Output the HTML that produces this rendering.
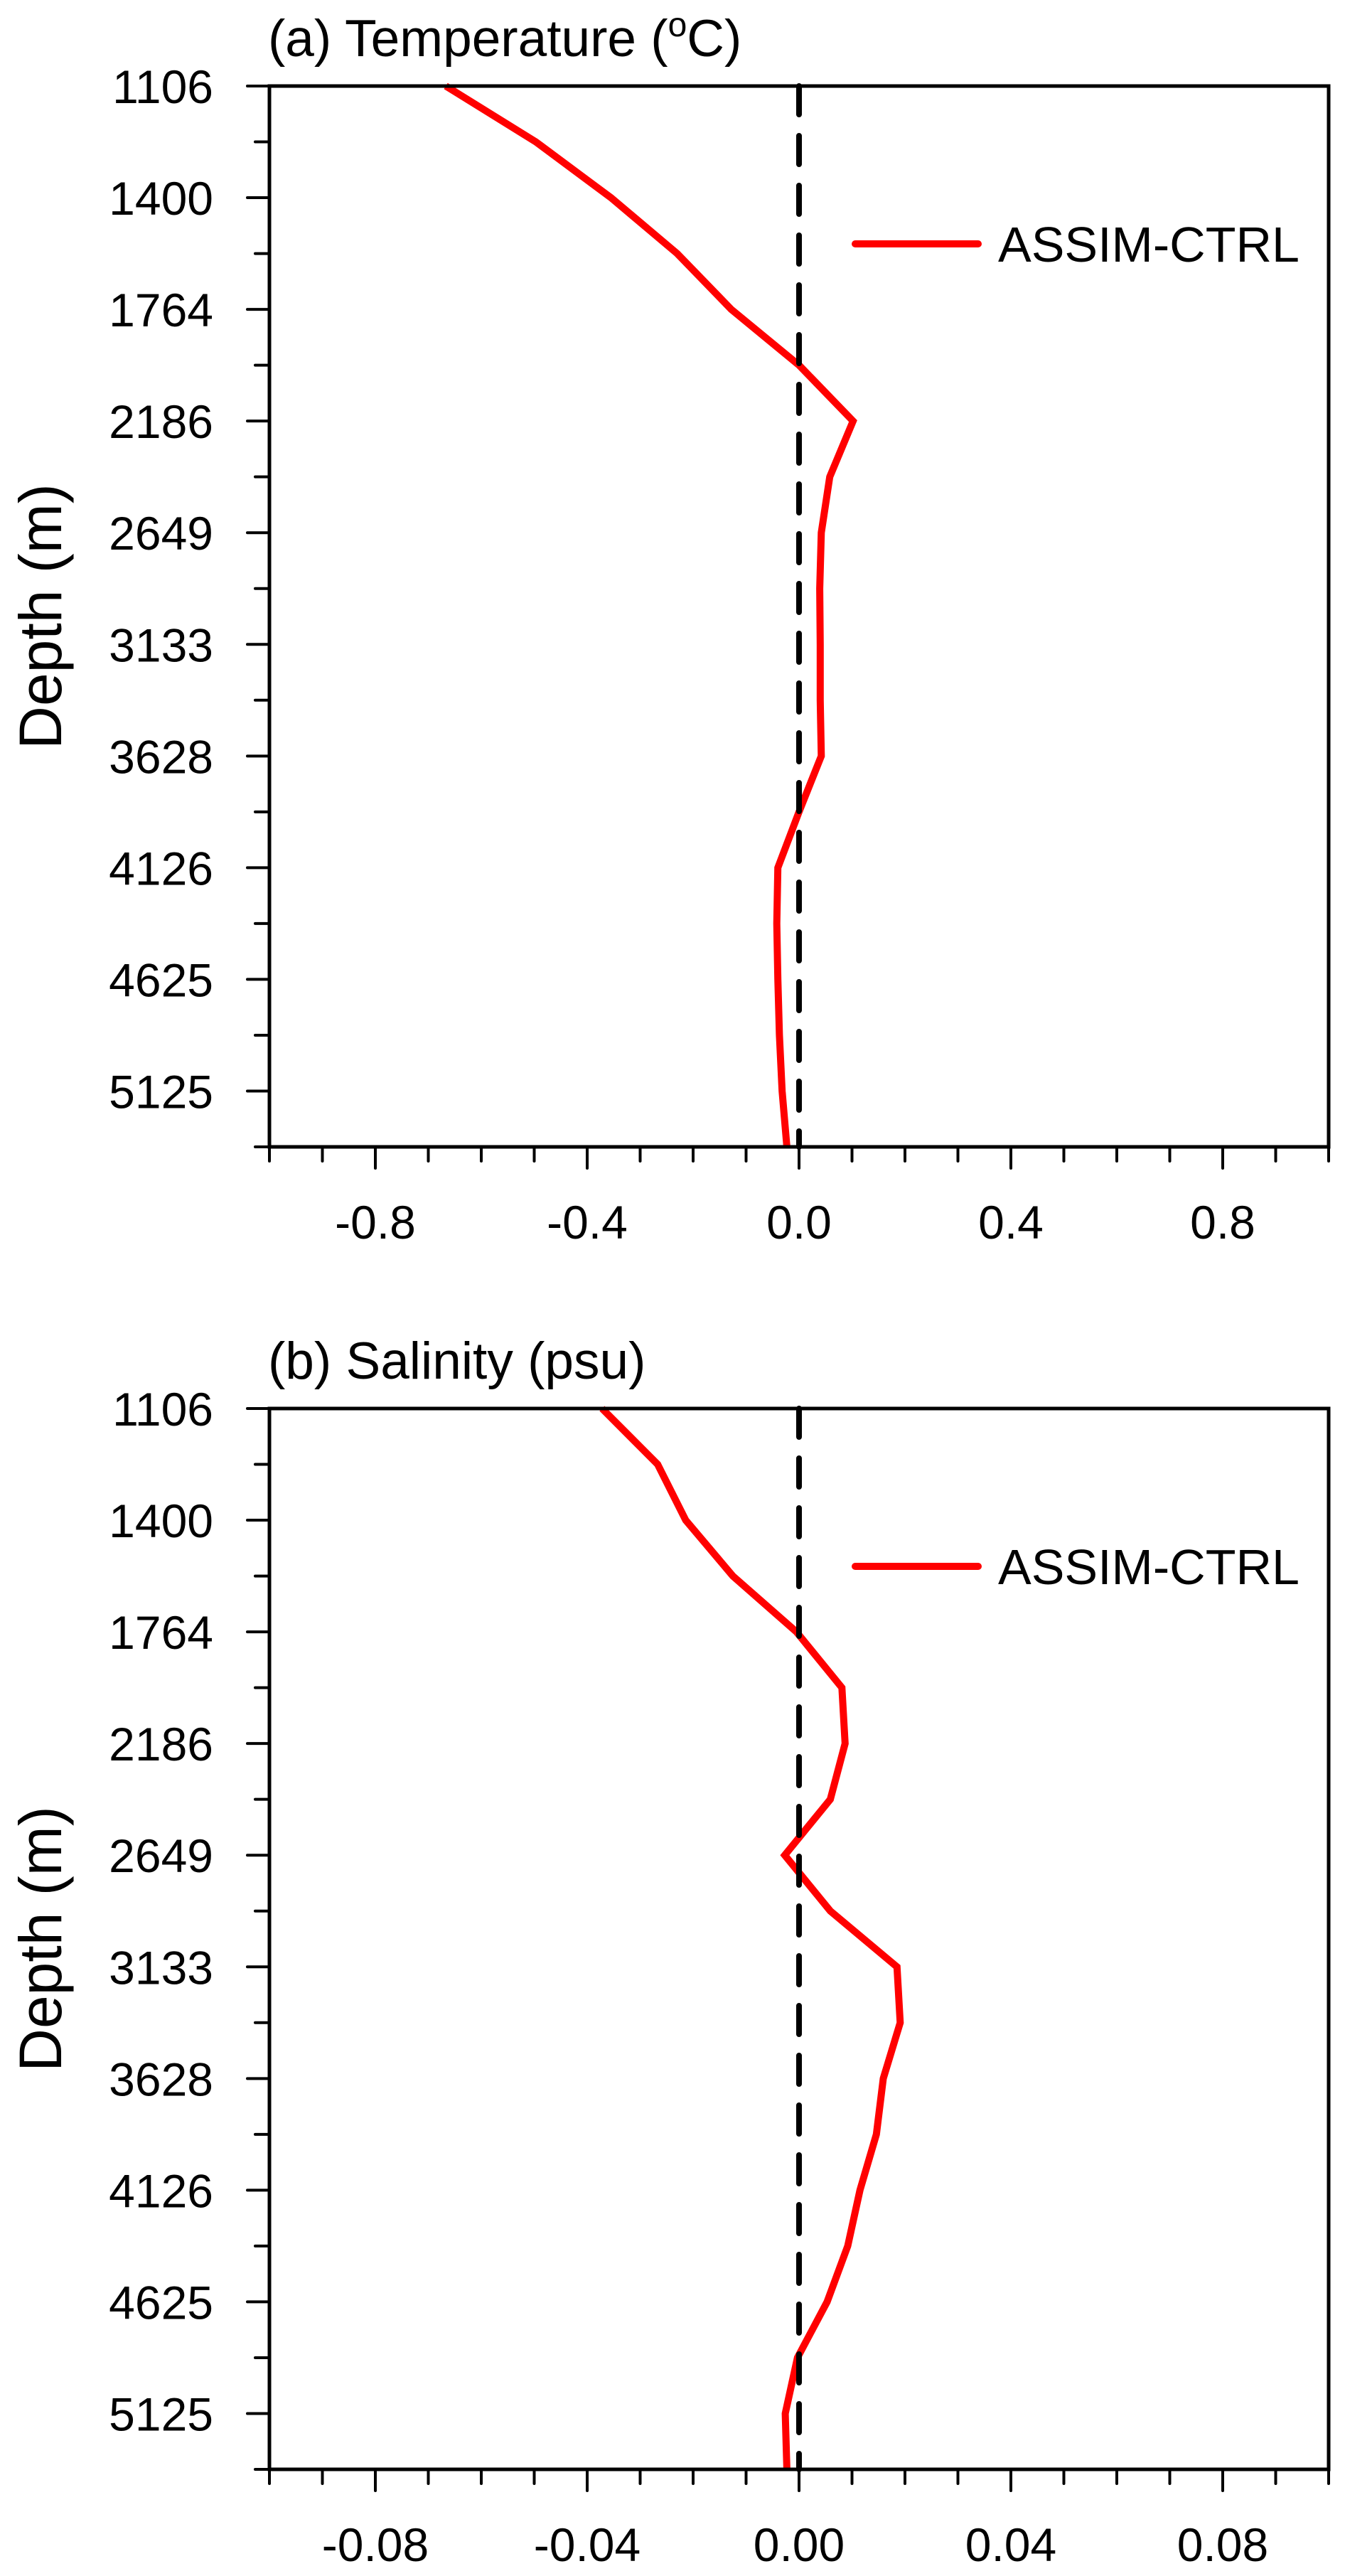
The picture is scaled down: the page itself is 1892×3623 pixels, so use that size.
<!DOCTYPE html>
<html><head><meta charset="utf-8">
<style>
html,body{margin:0;padding:0;background:#fff;}
svg{display:block;font-family:"Liberation Sans",sans-serif;}
</style></head>
<body>
<svg id="fig" width="1892" height="3623" viewBox="0 0 1892 3623" xmlns="http://www.w3.org/2000/svg"></svg>
<script>
const depthLabels = ["1106","1400","1764","2186","2649","3133","3628","4126","4625","5125"];
const tempValues = [-0.667,-0.497,-0.355,-0.230,-0.128,0.0,0.102,0.058,0.042,0.039,0.040,0.040,0.042,0.0,-0.040,-0.042,-0.040,-0.037,-0.032,-0.023];
const salValues = [-0.0372,-0.0267,-0.0214,-0.0125,-0.0005,0.0081,0.0087,0.0059,-0.0027,0.0059,0.0185,0.0191,0.0159,0.0146,0.0115,0.0092,0.0053,-0.0003,-0.0026,-0.0023];
const tempXTicks = ["-0.8","-0.4","0.0","0.4","0.8"];
const salXTicks = ["-0.08","-0.04","0.00","0.04","0.08"];
const legendLabel = "ASSIM-CTRL";

const NS = "http://www.w3.org/2000/svg";
const svg = document.getElementById("fig");
function mk(tag, attrs, parent){
  const e = document.createElementNS(NS, tag);
  for (const k in attrs) e.setAttribute(k, attrs[k]);
  (parent||svg).appendChild(e);
  return e;
}
const L = 379, R = 1869, H = 1492, NLEV = 20;

function panel(top, titleHTML, titleName, values, xmax, xticks, prefix){
  const g = mk("g", {});
  
  
  const bottom = top + H;
  const xs = v => L + (v + xmax) / (2 * xmax) * (R - L);
  const ys = i => top + i * H / (NLEV - 1);

  const t = mk("text", {x: L - 2, y: top - 42, "font-size": 73, fill: "#000"}, g);
  t.innerHTML = titleHTML;
  
  

  for (let i = 0; i < NLEV; i++) {
    const y = ys(i);
    const major = i % 2 === 0 && i / 2 < depthLabels.length;
    const tk = mk("line", {x1: major ? L - 31 : L - 20, x2: L, y1: y, y2: y, stroke: "#000", "stroke-width": 4, "stroke-linecap": "round"}, g);
    
    
    if (major) {
      const lb = mk("text", {x: 300, y: y + 24, "font-size": 66, "text-anchor": "end", fill: "#000"}, g);
      lb.textContent = depthLabels[i / 2];
      
      
    }
  }
  for (let k = 0; k <= 20; k++) {
    const v = -xmax + k * xmax / 10;
    const x = xs(v);
    const major = k % 4 === 2;
    const tk = mk("line", {x1: x, x2: x, y1: bottom, y2: bottom + (major ? 30 : 20), stroke: "#000", "stroke-width": 4, "stroke-linecap": "round"}, g);
    
    
  }
  xticks.forEach((s, j) => {
    const v = -0.8 * xmax + j * 0.4 * xmax;
    const lb = mk("text", {x: xs(v), y: bottom + 129, "font-size": 66, "text-anchor": "middle", fill: "#000"}, g);
    lb.textContent = s;
    
    
  });
  const yt = mk("text", {x: 0, y: 0, "font-size": 84, "text-anchor": "middle", fill: "#000",
    transform: "translate(86," + (top + H / 2) + ") rotate(-90)"}, g);
  yt.textContent = "Depth (m)";
  
  

  const pts = values.map((v, i) => xs(v).toFixed(1) + "," + ys(i).toFixed(1)).join(" ");
  const pl = mk("polyline", {points: pts, fill: "none", stroke: "#ff0000", "stroke-width": 10, "stroke-linejoin": "miter"}, g);
  
  

  const z = mk("line", {x1: xs(0), x2: xs(0), y1: top, y2: bottom, stroke: "#000", "stroke-width": 8, "stroke-dasharray": "40 30", "stroke-linecap": "round"}, g);
  
  

  const fr = mk("rect", {x: L, y: top, width: R - L, height: H, fill: "none", stroke: "#000", "stroke-width": 5}, g);
  
  

  const ly = top + 222;
  const lg = mk("g", {}, g);
  
  
  const ll = mk("line", {x1: 1203, x2: 1376, y1: ly, y2: ly, stroke: "#ff0000", "stroke-width": 10, "stroke-linecap": "round"}, lg);
  
  
  const lt = mk("text", {x: 1404, y: ly + 25, "font-size": 70, fill: "#000"}, lg);
  lt.textContent = legendLabel;
  
  
}

panel(121, '(a) Temperature (<tspan font-size="48" dy="-28">o</tspan><tspan dy="28">C)</tspan>', 'temperature-title', tempValues, 1.0, tempXTicks, 'temperature');
panel(1981, '(b) Salinity (psu)', 'salinity-title', salValues, 0.1, salXTicks, 'salinity');
</script>
</body></html>
